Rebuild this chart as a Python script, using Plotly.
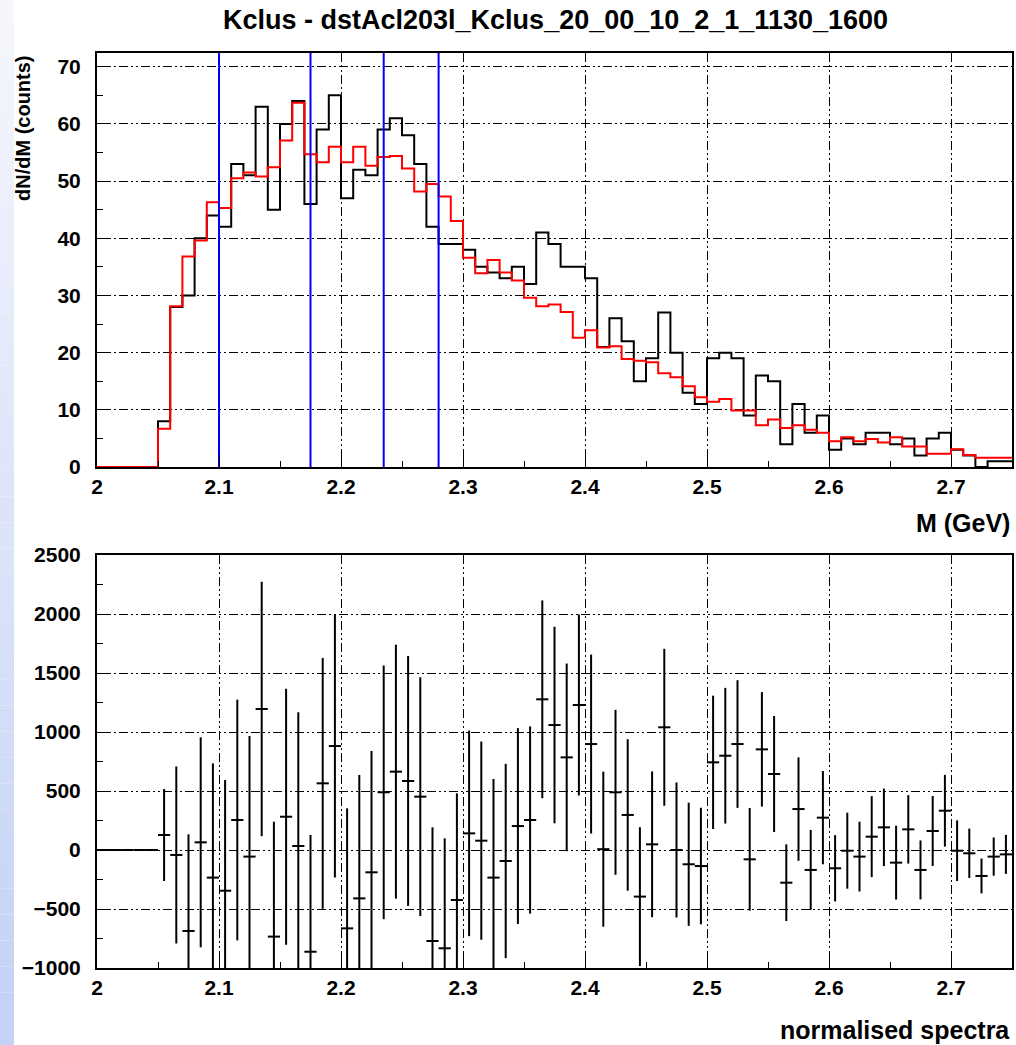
import plotly.graph_objects as go

# ---------------- data ----------------
bin_width = 0.01
bin_left = [round(2.00 + 0.01 * i, 2) for i in range(75)]  # 2.00 .. 2.74

black_counts = [0, 0, 0, 0, 0,
                8, 28, 30, 40, 44, 42, 53, 51, 63, 45,
                60, 64, 46, 59, 65, 47, 52, 51, 59, 61,
                58, 53, 42, 39, 39, 38, 35, 34, 33, 35,
                32, 41, 39, 35, 35, 33, 21, 26, 22, 15,
                19, 27, 20, 13, 11, 19, 20, 19, 9, 16,
                15, 4, 11, 6, 9, 3, 5, 4, 6, 6,
                4, 5, 2, 5, 6, 3, 2, 0, 1, 1]

red_counts = [0, 0, 0, 0, 0,
              6.7, 28.1, 36.8, 39.6, 46.3, 45.3, 50.5, 51.5, 50.8, 52.4,
              57.1, 63.7, 54.7, 53.3, 56.0, 53.3, 56.0, 52.7, 54.2, 54.4,
              52.2, 48.2, 49.5, 47.3, 43.0, 36.6, 33.9, 36.2, 34.0, 32.6,
              29.6, 28.1, 28.4, 27.1, 22.6, 23.9, 20.9, 21.1, 18.9, 18.6,
              18.3, 16.4, 15.7, 14.1, 12.2, 11.4, 11.9, 9.9, 9.9, 7.3,
              8.3, 6.8, 7.3, 6.5, 6.0, 4.5, 5.2, 4.5, 4.9, 4.3,
              5.2, 3.6, 3.6, 2.3, 2.3, 3.1, 2.1, 1.6, 1.6, 1.6]

blue_lines = [2.10, 2.175, 2.235, 2.28]

diff_values = [0, 0, 0, 0, 0,
               127, -42, -686, 65, -234, -345, 254, -56, 1195, -734,
               282, 34, -862, 565, 881, -664, -410, -189, 489, 664,
               585, 452, -771, -833, -424, 141, 79, -234, -93, 203,
               254, 1277, 1059, 785, 1229, 898, 7, 489, 297, -395,
               48, 1040, 0, -121, -136, 743, 799, 898, -79, 853,
               644, -277, 347, -169, 274, -155, -6, -56, 113, 192,
               -107, 175, -169, 161, 333, -6, -28, -220, -56, -37]

diff_errors = [0, 0, 0, 0, 0,
               390, 750, 819, 890, 968, 938, 1020, 1022, 1078, 974,
               1085, 1133, 989, 1063, 1113, 1017, 1046, 1028, 1075, 1076,
               1059, 1012, 963, 932, 904, 871, 840, 836, 823, 830,
               793, 838, 833, 795, 767, 758, 657, 699, 642, 588,
               618, 665, 572, 522, 494, 565, 575, 541, 435, 485,
               492, 325, 438, 339, 395, 281, 322, 296, 343, 328,
               313, 290, 250, 296, 304, 257, 209, 148, 162, 165]

top_yticks = [0, 10, 20, 30, 40, 50, 60, 70]
bot_yticks = [-1000, -500, 0, 500, 1000, 1500, 2000, 2500]
xticks = [2.0, 2.1, 2.2, 2.3, 2.4, 2.5, 2.6, 2.7]
xtick_labels = ["2", "2.1", "2.2", "2.3", "2.4", "2.5", "2.6", "2.7"]

title_text = "Kclus - dstAcl203l_Kclus_20_00_10_2_1_1130_1600"

# ---------------- figure ----------------
W, H = 1016, 1045
FONT = "Liberation Sans, Arial, sans-serif"

step_x = bin_left + [round(bin_left[-1] + bin_width, 2)]
black_y = black_counts + [black_counts[-1]]
red_y = red_counts + [red_counts[-1]]
centers = [round(b + bin_width / 2, 3) for b in bin_left]

fig = go.Figure()

fig.add_trace(go.Scatter(x=step_x, y=black_y, mode="lines", line_shape="hv",
                         line=dict(color="black", width=2), xaxis="x", yaxis="y",
                         hoverinfo="skip"))
fig.add_trace(go.Scatter(x=step_x, y=red_y, mode="lines", line_shape="hv",
                         line=dict(color="#ff0000", width=2), xaxis="x", yaxis="y",
                         hoverinfo="skip"))
for bx in blue_lines:
    fig.add_trace(go.Scatter(x=[bx, bx], y=[0, 72.4], mode="lines",
                             line=dict(color="#0000ff", width=2), xaxis="x", yaxis="y",
                             hoverinfo="skip"))

fig.add_trace(go.Scatter(
    x=centers, y=diff_values, mode="markers",
    marker=dict(size=1, color="black"),
    error_y=dict(type="data", array=diff_errors, visible=True, color="black",
                 thickness=2, width=0),
    error_x=dict(type="constant", value=bin_width / 2, visible=True, color="black",
                 thickness=2, width=0),
    xaxis="x2", yaxis="y2", hoverinfo="skip"))

grid_dash = "9px,3px,2px,3px,2px,3px"
x_dom = [97 / W, 1012 / W]
top_dom = [1 - 467 / H, 1 - 53 / H]
bot_dom = [1 - 968 / H, 1 - 555 / H]

tickfont = dict(family=FONT, size=21, color="black", weight="bold")

common_x = dict(range=[2.0, 2.75], tickvals=xticks, ticktext=xtick_labels,
                ticks="inside", ticklen=12, tickwidth=1, tickcolor="black",
                showline=True, linecolor="black", linewidth=2, mirror=True,
                showgrid=True, gridcolor="black", gridwidth=1, griddash=grid_dash,
                zeroline=False, tickfont=tickfont, ticklabelstandoff=0,
                automargin=False,
                minor=dict(ticks="inside", ticklen=6, dtick=0.05, tick0=2.0,
                           tickcolor="black", showgrid=False))

common_y = dict(ticks="inside", ticklen=12, tickwidth=1, tickcolor="black",
                showline=True, linecolor="black", linewidth=2, mirror=True,
                showgrid=True, gridcolor="black", gridwidth=1, griddash=grid_dash,
                zeroline=False, tickfont=tickfont, ticklabelstandoff=10,
                automargin=False)

fig.update_layout(
    width=W, height=H,
    autosize=False,
    margin=dict(l=0, r=0, t=0, b=0, pad=0, autoexpand=False),
    paper_bgcolor="white", plot_bgcolor="white",
    showlegend=False,
    xaxis=dict(domain=x_dom, anchor="y", **common_x),
    yaxis=dict(domain=top_dom, anchor="x", range=[0, 72.4], tickvals=top_yticks,
               minor=dict(ticks="inside", ticklen=6, dtick=5, tick0=0,
                          tickcolor="black", showgrid=False),
               **common_y),
    xaxis2=dict(domain=x_dom, anchor="y2", **common_x),
    yaxis2=dict(domain=bot_dom, anchor="x2", range=[-1000, 2500], tickvals=bot_yticks,
                minor=dict(ticks="inside", ticklen=6, dtick=250, tick0=0,
                           tickcolor="black", showgrid=False),
                **common_y),
)

# left light-blue gradient strip
n_strip = 40
shapes = []
for i in range(n_strip):
    f = i / (n_strip - 1)
    r = int(246 - f * (246 - 196))
    g = int(247 - f * (247 - 210))
    b = int(253 - f * (253 - 246))
    shapes.append(dict(type="rect", xref="paper", yref="paper",
                       x0=0, x1=14 / W, y0=1 - (i + 1) / n_strip, y1=1 - i / n_strip,
                       fillcolor=f"rgb({r},{g},{b})", line=dict(width=0), layer="below"))
fig.update_layout(shapes=shapes)

annotations = [
    dict(text=title_text, x=555 / W, y=1 - 20 / H, xref="paper", yref="paper",
         xanchor="center", yanchor="middle", showarrow=False,
         font=dict(family=FONT, size=27, color="black", weight="bold")),
    dict(text="dN/dM (counts)", x=23 / W, y=1 - 53 / H, xref="paper", yref="paper",
         xanchor="center", yanchor="top", textangle=-90, showarrow=False,
         font=dict(family=FONT, size=20, color="black", weight="bold")),
    dict(text="M (GeV)", x=1012 / W, y=1 - 523 / H, xref="paper", yref="paper",
         xanchor="right", yanchor="middle", showarrow=False,
         font=dict(family=FONT, size=25, color="black", weight="bold")),
    dict(text="normalised spectra", x=1012 / W, y=1 - 1030 / H, xref="paper", yref="paper",
         xanchor="right", yanchor="middle", showarrow=False,
         font=dict(family=FONT, size=25, color="black", weight="bold")),
]
fig.update_layout(annotations=annotations)

fig.write_html("out.html")
